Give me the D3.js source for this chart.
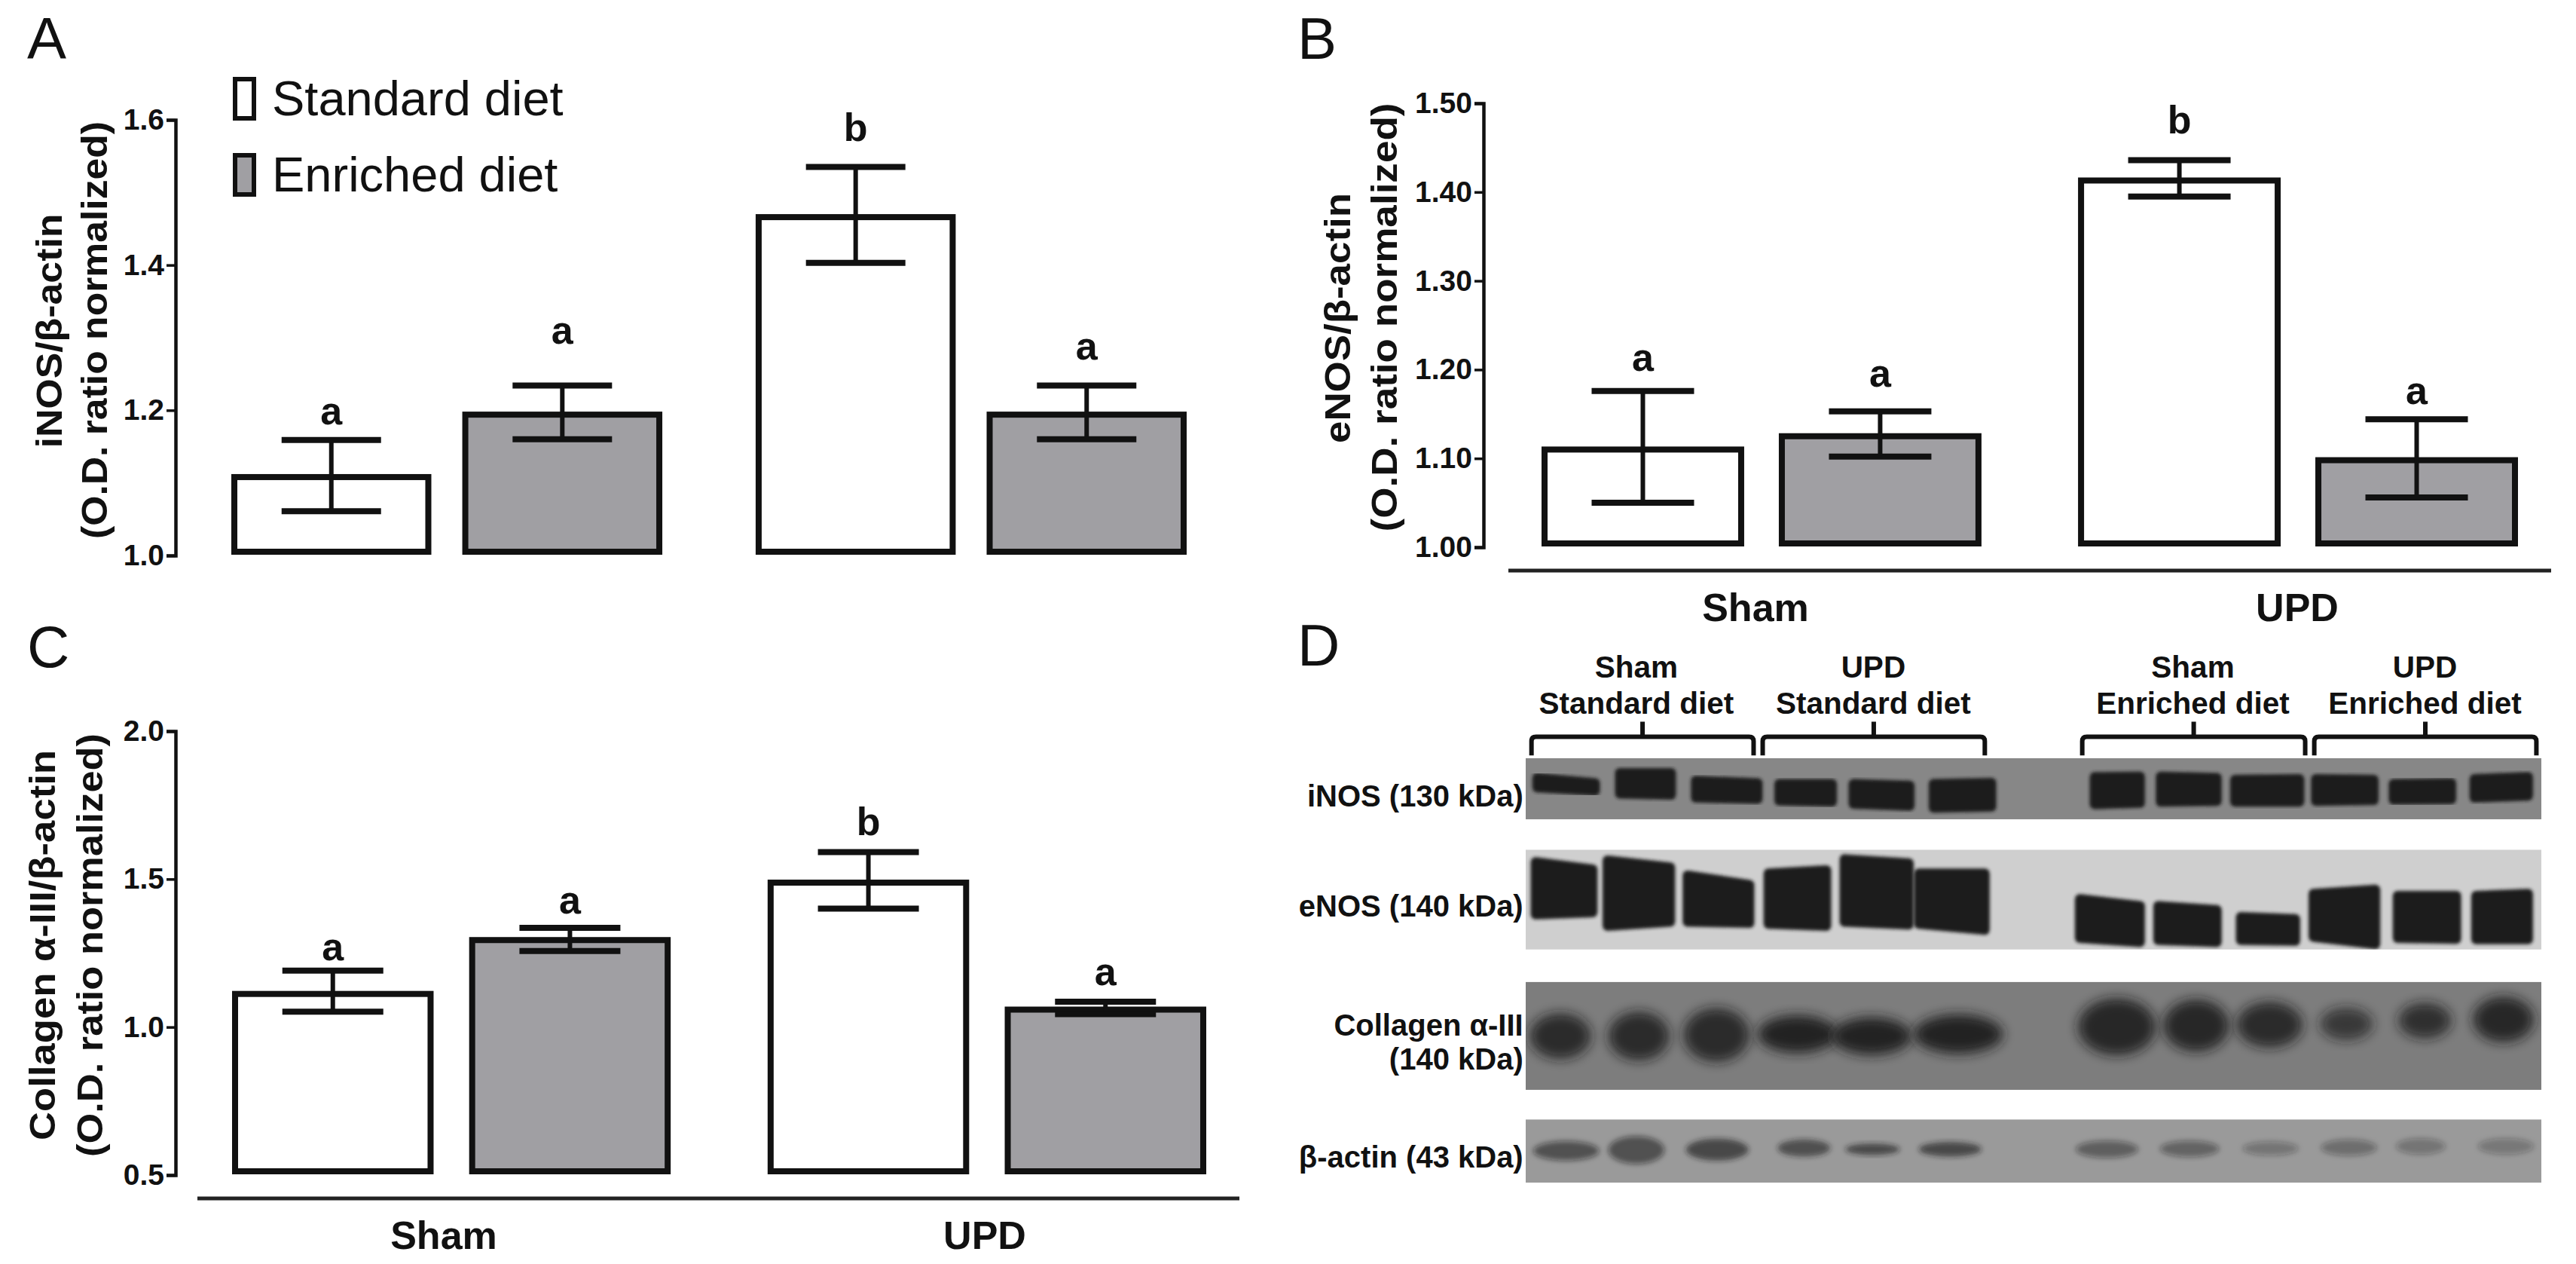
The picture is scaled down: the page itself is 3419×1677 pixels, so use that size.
<!DOCTYPE html>
<html>
<head>
<meta charset="utf-8">
<script src="https://cdn.jsdelivr.net/npm/d3@7"></script>
<style>
  html, body { margin: 0; padding: 0; background: #fff; }
  svg { display: block; }
  text { font-family: "Liberation Sans", Arial, sans-serif; fill: #111; }
</style>
</head>
<body>
<div id="chart"></div>
<script>
const groupNames = ['Sham', 'UPD'];
const dietNames = ['Standard diet', 'Enriched diet'];

// bar values, order: sham std, sham enr, upd std, upd enr
const inosMeans = [1.108, 1.194, 1.466, 1.194];
const inosUpper = [1.159, 1.234, 1.535, 1.234];
const inosLower = [1.061, 1.160, 1.403, 1.160];
const inosLetters = ['a', 'a', 'b', 'a'];
const inosLetterAt = [1.181, 1.292, 1.571, 1.270];
const inosTicks = [1.0, 1.2, 1.4, 1.6];

const enosMeans = [1.110, 1.125, 1.413, 1.098];
const enosUpper = [1.176, 1.153, 1.436, 1.144];
const enosLower = [1.050, 1.102, 1.395, 1.056];
const enosLetters = ['a', 'a', 'b', 'a'];
const enosLetterAt = [1.199, 1.181, 1.466, 1.161];
const enosTicks = [1.0, 1.1, 1.2, 1.3, 1.4, 1.5];

const collagenMeans = [1.112, 1.294, 1.488, 1.059];
const collagenUpper = [1.191, 1.335, 1.591, 1.086];
const collagenLower = [1.052, 1.257, 1.400, 1.044];
const collagenLetters = ['a', 'a', 'b', 'a'];
const collagenLetterAt = [1.227, 1.383, 1.649, 1.143];
const collagenTicks = [0.5, 1.0, 1.5, 2.0];

// blot panel, everything below is in "gel units"
const blotLabels = [['iNOS (130 kDa)'], ['eNOS (140 kDa)'], ['Collagen α-III', '(140 kDa)'], ['β-actin (43 kDa)']];
const blotLabelAt = [418, 688, 980, 1305];
const blotTops = [325, 550, 875, 1213];
const blotBottoms = [475, 795, 1140, 1368];
const blotShades = ['#878787', '#cfcfcf', '#7d7d7d', '#9a9a9a'];

const laneGroupLabels = [['Sham', 'Standard diet'], ['UPD', 'Standard diet'], ['Sham', 'Enriched diet'], ['UPD', 'Enriched diet']];
const laneGroupLabelAt = [430, 717, 1104, 1385];
const laneGroupStart = [303, 583, 970, 1251];
const laneGroupEnd = [572, 852, 1240, 1520];

// [left, right, top left, top right, bottom right, bottom left]
const inosBands = [
  [305, 385, 365, 378, 413, 405], [405, 477, 353, 353, 423, 420], [497, 582, 372, 378, 433, 430],
  [598, 672, 380, 380, 440, 437], [688, 766, 380, 384, 450, 445], [785, 865, 380, 377, 452, 455],
  [980, 1045, 363, 362, 443, 446], [1060, 1138, 362, 365, 438, 440], [1150, 1238, 370, 368, 440, 440],
  [1248, 1328, 368, 370, 436, 438], [1342, 1422, 380, 378, 434, 435], [1440, 1515, 368, 363, 425, 430]
];
const enosBands = [
  [303, 382, 572, 590, 712, 717], [390, 476, 568, 585, 735, 745], [487, 572, 605, 628, 738, 735],
  [585, 665, 600, 592, 745, 740], [677, 765, 565, 575, 742, 735], [767, 857, 600, 600, 755, 740],
  [962, 1045, 663, 680, 785, 775], [1057, 1138, 680, 690, 785, 780], [1157, 1233, 707, 712, 782, 780],
  [1245, 1330, 650, 640, 790, 772], [1347, 1428, 655, 655, 777, 775], [1442, 1515, 655, 650, 778, 778]
];
// [centre x, centre y, radius x, radius y, darkness]
const collagenBands = [
  [338, 1008, 37, 56, 0.82], [433, 1008, 37, 60, 0.82], [527, 1005, 40, 66, 0.82],
  [625, 1003, 48, 46, 0.95], [715, 1008, 48, 46, 0.95], [820, 1003, 54, 48, 0.95],
  [1012, 985, 47, 70, 0.85], [1108, 982, 40, 64, 0.85], [1197, 980, 40, 56, 0.82],
  [1290, 978, 32, 40, 0.7], [1385, 970, 32, 44, 0.78], [1480, 967, 37, 56, 0.85]
];
const actinBands = [
  [345, 1290, 40, 24, 0.55], [430, 1288, 34, 34, 0.55], [528, 1287, 38, 27, 0.65],
  [633, 1283, 32, 21, 0.6], [716, 1286, 33, 14, 0.65], [810, 1286, 38, 18, 0.65],
  [1000, 1286, 38, 21, 0.45], [1100, 1285, 36, 20, 0.42], [1198, 1284, 34, 17, 0.3],
  [1293, 1282, 34, 20, 0.35], [1380, 1279, 30, 20, 0.3], [1483, 1279, 34, 20, 0.28]
];

const width = 3419;
const height = 1677;
const inkColor = '#111';
const enrichedFill = '#a09fa3';
const barStroke = 8;

const svg = d3.select('#chart').append('svg').attr('width', width).attr('height', height);
svg.append('rect').attr('width', width).attr('height', height).attr('fill', '#fff');

const defs = svg.append('defs');
[['blurSharp', 2], ['blurCollagen', 8], ['blurActin', 3.5]].forEach(([id, dev]) => {
  defs.append('filter').attr('id', id)
    .attr('x', '-30%').attr('y', '-30%').attr('width', '160%').attr('height', '160%')
    .append('feGaussianBlur').attr('stdDeviation', dev);
});

function drawBarPanel(opts) {
  const g = svg.append('g');
  const y = d3.scaleLinear().domain(opts.domain).range(opts.yRange);
  const xGroup = d3.scaleBand().domain(groupNames).range(opts.xRange).paddingInner(opts.groupPad);
  const xDiet = d3.scaleBand().domain(dietNames).range([0, xGroup.bandwidth()]).paddingInner(opts.dietPad);
  const rows = opts.means.map((m, i) => ({
    mean: m,
    upper: opts.upper[i],
    lower: opts.lower[i],
    letter: opts.letters[i],
    letterAt: opts.letterAt[i],
    group: groupNames[Math.floor(i / 2)],
    diet: dietNames[i % 2],
  }));
  const barLeft = (d) => xGroup(d.group) + xDiet(d.diet);
  const barMid = (d) => barLeft(d) + xDiet.bandwidth() / 2;
  const baseY = y(opts.domain[0]) - 1 - barStroke / 2;

  g.selectAll('rect.bar').data(rows).join('rect')
    .attr('class', 'bar')
    .attr('x', (d) => barLeft(d) + barStroke / 2)
    .attr('width', xDiet.bandwidth() - barStroke)
    .attr('y', (d) => y(d.mean))
    .attr('height', (d) => baseY - y(d.mean))
    .attr('fill', (d) => (d.diet === dietNames[0] ? '#fff' : enrichedFill))
    .attr('stroke', inkColor)
    .attr('stroke-width', barStroke);

  // whiskers
  g.selectAll('line.whisker').data(rows).join('line')
    .attr('class', 'whisker')
    .attr('x1', barMid).attr('x2', barMid)
    .attr('y1', (d) => y(d.upper)).attr('y2', (d) => y(d.lower))
    .attr('stroke', inkColor).attr('stroke-width', 6);
  ['upper', 'lower'].forEach((key) => {
    g.selectAll('line.cap-' + key).data(rows).join('line')
      .attr('class', 'cap-' + key)
      .attr('x1', (d) => barMid(d) - opts.capHalf).attr('x2', (d) => barMid(d) + opts.capHalf)
      .attr('y1', (d) => y(d[key])).attr('y2', (d) => y(d[key]))
      .attr('stroke', inkColor).attr('stroke-width', 8);
  });

  g.selectAll('text.sig').data(rows).join('text')
    .attr('class', 'sig')
    .attr('x', barMid)
    .attr('y', (d) => y(d.letterAt))
    .attr('text-anchor', 'middle')
    .attr('font-size', 52).attr('font-weight', 700)
    .text((d) => d.letter);

  const axis = d3.axisLeft(y).tickValues(opts.ticks).tickFormat(d3.format(opts.format))
    .tickSizeOuter(0).tickSize(12).tickPadding(3);
  const axisG = g.append('g').attr('transform', `translate(${opts.axisX},0)`).call(axis);
  axisG.select('.domain').attr('stroke', inkColor).attr('stroke-width', 4.5);
  axisG.selectAll('.tick line').attr('stroke', inkColor).attr('stroke-width', 3.5);
  axisG.selectAll('.tick text').attr('font-size', 39).attr('font-weight', 700)
    .attr('font-family', '"Liberation Sans", Arial, sans-serif').attr('fill', inkColor);

  opts.titles.forEach((t) => {
    g.append('text')
      .attr('transform', `translate(${t.x},${t.y}) rotate(-90)`)
      .attr('text-anchor', 'middle').attr('dominant-baseline', 'central')
      .attr('font-size', 48).attr('font-weight', 700)
      .attr('textLength', t.len).attr('lengthAdjust', 'spacingAndGlyphs')
      .text(t.text);
  });

  if (opts.rule) {
    g.append('line')
      .attr('x1', opts.rule.x1).attr('x2', opts.rule.x2)
      .attr('y1', opts.rule.y).attr('y2', opts.rule.y)
      .attr('stroke', '#222').attr('stroke-width', 5);
    g.selectAll('text.group').data(opts.rule.labels).join('text')
      .attr('class', 'group')
      .attr('x', (d) => d.x).attr('y', opts.rule.textY)
      .attr('text-anchor', 'middle').attr('font-size', 52).attr('font-weight', 700)
      .text((d) => d.text);
  }
}

drawBarPanel({
  domain: [1.0, 1.6], yRange: [737, 159], xRange: [307, 1575], groupPad: 0.178, dietPad: 0.134,
  axisX: 233, capHalf: 66, format: '.1f', ticks: inosTicks,
  means: inosMeans, upper: inosUpper, lower: inosLower, letters: inosLetters, letterAt: inosLetterAt,
  titles: [
    {text: 'iNOS/β-actin', x: 65, y: 439, len: 311},
    {text: '(O.D. ratio normalized)', x: 125, y: 438, len: 554},
  ],
});

drawBarPanel({
  domain: [1.0, 1.5], yRange: [726, 137], xRange: [2046, 3342], groupPad: 0.18, dietPad: 0.146,
  axisX: 1969, capHalf: 68, format: '.2f', ticks: enosTicks,
  means: enosMeans, upper: enosUpper, lower: enosLower, letters: enosLetters, letterAt: enosLetterAt,
  titles: [
    {text: 'eNOS/β-actin', x: 1775, y: 422, len: 332},
    {text: '(O.D. ratio normalized)', x: 1837, y: 421, len: 569},
  ],
  rule: {x1: 2002, x2: 3386, y: 757, textY: 824,
    labels: [{text: groupNames[0], x: 2330}, {text: groupNames[1], x: 3049}]},
});

drawBarPanel({
  domain: [0.5, 2.0], yRange: [1559, 970], xRange: [308, 1601], groupPad: 0.181, dietPad: 0.15,
  axisX: 233, capHalf: 67, format: '.1f', ticks: collagenTicks,
  means: collagenMeans, upper: collagenUpper, lower: collagenLower, letters: collagenLetters, letterAt: collagenLetterAt,
  titles: [
    {text: 'Collagen α-III/β-actin', x: 56, y: 1254, len: 518},
    {text: '(O.D. ratio normalized)', x: 119, y: 1254, len: 562},
  ],
  rule: {x1: 262, x2: 1645, y: 1590, textY: 1657,
    labels: [{text: groupNames[0], x: 589}, {text: groupNames[1], x: 1307}]},
});

// panel letters
[['A', 36, 78], ['B', 1722, 78], ['C', 36, 885], ['D', 1722, 883]].forEach(([t, x, y]) => {
  svg.append('text').attr('x', x).attr('y', y).attr('font-size', 78).text(t);
});

// legend
const legend = svg.append('g');
dietNames.forEach((name, i) => {
  const top = 102 + i * 101;
  legend.append('rect')
    .attr('x', 312).attr('y', top + 3).attr('width', 25).attr('height', 52)
    .attr('fill', i === 0 ? '#fff' : enrichedFill)
    .attr('stroke', inkColor).attr('stroke-width', 6);
  legend.append('text').attr('x', 361).attr('y', top + 51).attr('font-size', 65).attr('fill', '#222').text(name);
});

// blots
const gelX = d3.scaleLinear().domain([296, 1526]).range([2025, 3373]);
const gelY = d3.scaleLinear().domain([325, 1368]).range([1006, 1569]);
const blots = svg.append('g');
const bandLine = d3.line().x((d) => gelX(d[0])).y((d) => gelY(d[1]));

blotTops.forEach((top, i) => {
  const clipId = 'blot' + i;
  defs.append('clipPath').attr('id', clipId).append('rect')
    .attr('x', gelX(296)).attr('y', gelY(top))
    .attr('width', gelX(1526) - gelX(296)).attr('height', gelY(blotBottoms[i]) - gelY(top));
  blots.append('rect')
    .attr('x', gelX(296)).attr('y', gelY(top))
    .attr('width', gelX(1526) - gelX(296)).attr('height', gelY(blotBottoms[i]) - gelY(top))
    .attr('fill', blotShades[i]);
});

// the round stroke gives the soft corners, so pull the outline in by about half of it
function drawSharpBands(bands, blotIndex) {
  const inX = 5;
  const inY = 8;
  blots.append('g').attr('clip-path', `url(#blot${blotIndex})`)
    .selectAll('path').data(bands).join('path')
    .attr('d', (b) => bandLine([
      [b[0] + inX, b[2] + inY], [b[1] - inX, b[3] + inY],
      [b[1] - inX, b[4] - inY], [b[0] + inX, b[5] - inY],
    ]) + 'Z')
    .attr('fill', '#1f1f1f').attr('stroke', '#1f1f1f')
    .attr('stroke-width', 13).attr('stroke-linejoin', 'round')
    .attr('filter', 'url(#blurSharp)');
}

function drawSoftBands(bands, blotIndex, filterId) {
  blots.append('g').attr('clip-path', `url(#blot${blotIndex})`)
    .selectAll('ellipse').data(bands).join('ellipse')
    .attr('cx', (b) => gelX(b[0]))
    .attr('cy', (b) => gelY(b[1]))
    .attr('rx', (b) => gelX(b[0] + b[2]) - gelX(b[0]))
    .attr('ry', (b) => gelY(b[1] + b[3]) - gelY(b[1]))
    .attr('fill', '#1a1a1a')
    .attr('fill-opacity', (b) => b[4])
    .attr('filter', `url(#${filterId})`);
}

drawSharpBands(inosBands, 0);
drawSharpBands(enosBands, 1);
drawSoftBands(collagenBands, 2, 'blurCollagen');
drawSoftBands(actinBands, 3, 'blurActin');

// row labels
blotLabels.forEach((lines, i) => {
  lines.forEach((line, j) => {
    blots.append('text')
      .attr('x', gelX(293)).attr('y', gelY(blotLabelAt[i] + j * 85))
      .attr('text-anchor', 'end').attr('dominant-baseline', 'central')
      .attr('font-size', 40).attr('font-weight', 700)
      .text(line);
  });
});

// lane group brackets and labels
laneGroupLabels.forEach((lines, i) => {
  const x0 = gelX(laneGroupStart[i]);
  const x1 = gelX(laneGroupEnd[i]);
  const mid = (x0 + x1) / 2;
  const yTop = gelY(272);
  const yEnd = gelY(318);
  const r = 6;
  blots.append('path')
    .attr('d', `M${x0},${yEnd} L${x0},${yTop + r} Q${x0},${yTop} ${x0 + r},${yTop} L${x1 - r},${yTop} Q${x1},${yTop} ${x1},${yTop + r} L${x1},${yEnd} M${mid},${yTop} L${mid},${gelY(235)}`)
    .attr('fill', 'none').attr('stroke', inkColor).attr('stroke-width', 6);
  lines.forEach((line, j) => {
    blots.append('text')
      .attr('x', gelX(laneGroupLabelAt[i])).attr('y', gelY(100 + j * 90))
      .attr('text-anchor', 'middle').attr('dominant-baseline', 'central')
      .attr('font-size', 40.5).attr('font-weight', 700)
      .text(line);
  });
});
</script>
</body>
</html>
